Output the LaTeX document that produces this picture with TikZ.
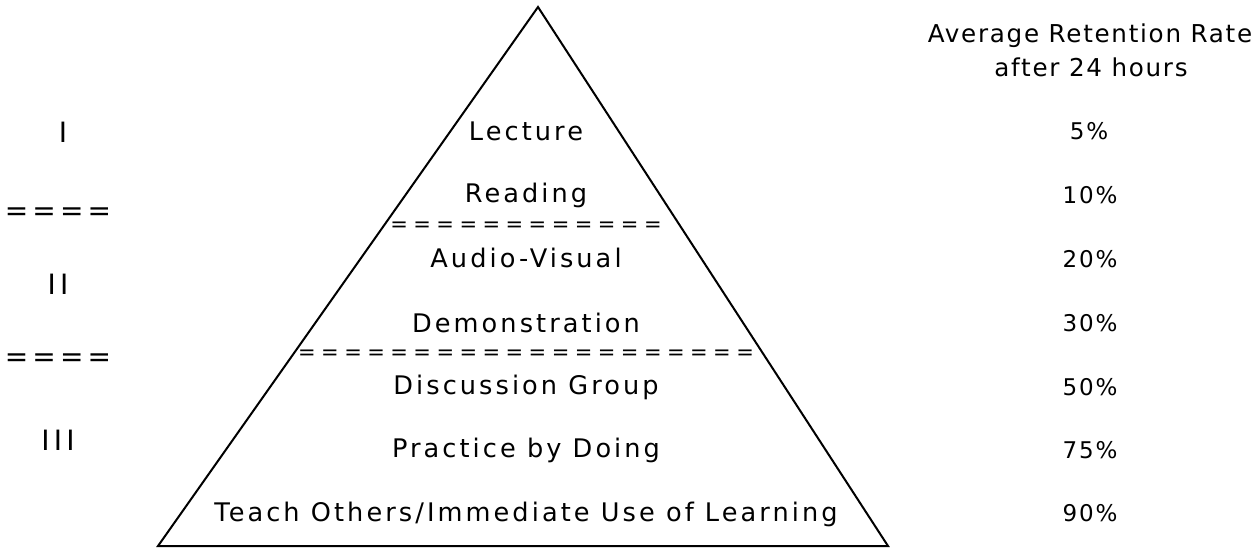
\documentclass[tikz,border=0pt]{standalone}
\usepackage{fontspec}
\setmainfont{DejaVu Sans}
\usepackage{tikz}
\usetikzlibrary{positioning}

\begin{document}
\begin{tikzpicture}[x=0.5pt,y=-0.5pt,line width=1pt,
    font=\fontsize{12.8}{15}\selectfont\addfontfeatures{LetterSpace=12},
    divider/.style={font=\fontsize{10.5}{12.6}\selectfont\addfontfeatures{LetterSpace=26}},
    heading/.style={font=\fontsize{12.3}{15}\selectfont\addfontfeatures{LetterSpace=7}},
    rate/.style={font=\fontsize{11.5}{14}\selectfont\addfontfeatures{LetterSpace=8}},
    level/.style={font=\fontsize{14}{16.8}\selectfont\addfontfeatures{LetterSpace=15}}]
    \useasboundingbox (0,0) rectangle (1256,548);

    % pyramid
    \coordinate (top) at (538,7);
    \coordinate (base-left) at (158,546);
    \coordinate (base-right) at (888,546);
    \draw (top) -- (base-left) -- (base-right) -- cycle;

    \node[] (lecture) at (526,131) {Lecture};
    \node[] (reading) at (526,195) {Reading};
    \node[divider] (split-1) at (526,227) {============};
    \node[] (audio-visual) at (526,258) {Audio-Visual};
    \node[] (demonstration) at (526,323) {Demonstration};
    \node[divider] (split-2) at (526,355) {====================};
    \node[] (discussion) at (526,387) {Discussion Group};
    \node[] (practice) at (526,450) {Practice by Doing};
    \node[] (teach) at (526,514) {Teach Others/Immediate Use of Learning};

    % levels
    \node[level] (level-1) at (63,132) {I};
    \node[level] (level-split-1) at (58,214) {====};
    \node[level] (level-2) at (58,284) {II};
    \node[level] (level-split-2) at (58,360) {====};
    \node[level] (level-3) at (58,440) {III};

    % retention rates
    \node[heading] (rate-title) at (1090,36) {Average Retention Rate};
    \node[heading] (rate-subtitle) at (1091,67) {after 24 hours};
    \node[rate] (rate-lecture) at (1089,131) {5\%};
    \node[rate] (rate-reading) at (1090,195) {10\%};
    \node[rate] (rate-audio-visual) at (1090,259) {20\%};
    \node[rate] (rate-demonstration) at (1090,323) {30\%};
    \node[rate] (rate-discussion) at (1090,387) {50\%};
    \node[rate] (rate-practice) at (1090,450) {75\%};
    \node[rate] (rate-teach) at (1090,513) {90\%};
\end{tikzpicture}
\end{document}
